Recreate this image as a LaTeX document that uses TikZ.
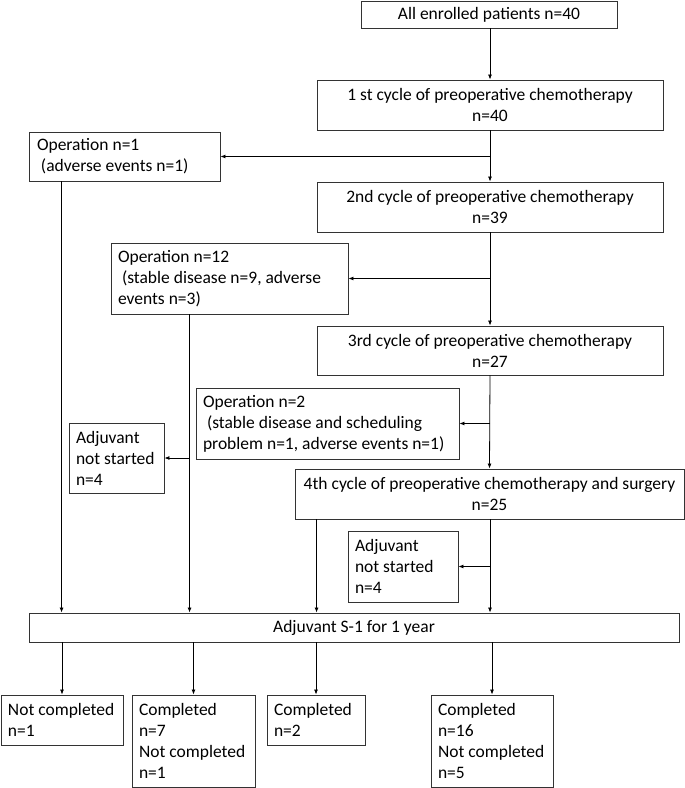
\documentclass[tikz,border=0pt]{standalone}
\usepackage{fontspec}
\setmainfont{Carlito}
\usetikzlibrary{arrows.meta}
\tikzset{
  bx/.style={draw=black!80, line width=0.9pt, inner ysep=0pt,
    font=\fontsize{17.5}{21}\selectfont, anchor=center},
  cbox/.style={bx, inner xsep=7pt, align=center, minimum width=#1},
  lbox/.style={bx, inner xsep=0pt, align=flush left, text width=#1},
  conn/.style={draw=black, line width=0.8pt},
  arr/.style={conn, -{Latex[length=5pt,width=4pt]}},
}
\begin{document}
\begin{tikzpicture}[x=1pt,y=-1pt]
\useasboundingbox (0,0) rectangle (685,788);
% main column
\node[cbox=256, minimum height=27] (A) at (489,14.5) {All enrolled patients n=40};
\node[cbox=346, minimum height=50] (C1) at (490,105) {1 st cycle of preoperative chemotherapy\\n=40};
\node[cbox=346, minimum height=50] (C2) at (490,207) {2nd cycle of preoperative chemotherapy\\n=39};
\node[cbox=346, minimum height=49] (C3) at (490,350.5) {3rd cycle of preoperative chemotherapy\\n=27};
\node[cbox=389, minimum height=50, inner xsep=2pt] (C4) at (489.5,494) {4th cycle of preoperative chemotherapy and surgery\\n=25};
% side boxes
\node[lbox=191, minimum height=49] (Op1) at (124.5,156.5) {\hspace*{8pt}Operation n=1\\\hspace*{12pt}(adverse events n=1)};
\node[lbox=237, minimum height=71] (Op12) at (229.5,278.5) {\hspace*{7pt}Operation n=12\\\hspace*{11pt}(stable disease n=9, adverse\\\hspace*{7pt}events n=3)};
\node[lbox=263, minimum height=71] (Op2) at (327.5,423.5) {\hspace*{7pt}Operation n=2\\\hspace*{11pt}(stable disease and scheduling\\\hspace*{7pt}problem n=1, adverse events n=1)};
\node[lbox=95, minimum height=70] (AdjL) at (116.5,458) {\hspace*{7pt}Adjuvant\\\hspace*{7pt}not started\\\hspace*{7pt}n=4};
\node[lbox=110, minimum height=71] (AdjR) at (403,566.5) {\hspace*{7pt}Adjuvant\\\hspace*{7pt}not started\\\hspace*{7pt}n=4};
\node[cbox=650, minimum height=29] (S1) at (354,627.5) {Adjuvant S-1 for 1 year};
% bottom boxes
\node[lbox=122, minimum height=50] (B1) at (62,720) {\hspace*{7pt}Not completed\\\hspace*{7pt}n=1};
\node[lbox=123, minimum height=92] (B2) at (193.5,741) {\hspace*{7pt}Completed\\\hspace*{7pt}n=7\\\hspace*{7pt}Not completed\\\hspace*{7pt}n=1};
\node[lbox=98, minimum height=50] (B3) at (316,720) {\hspace*{7pt}Completed\\\hspace*{7pt}n=2};
\node[lbox=122, minimum height=92] (B4) at (492,741) {\hspace*{7pt}Completed\\\hspace*{7pt}n=16\\\hspace*{7pt}Not completed\\\hspace*{7pt}n=5};
% helper coordinates
\coordinate (o1) at ([xshift=33pt]Op1.south west);
\coordinate (o12) at ([xshift=79pt]Op12.south west);
\coordinate (c4l) at (C3.south west |- C4.south);
% connectors main column
\draw[arr] (A.south -| C1.south) -- (C1.north);
\draw[arr] (C1.south) -- (C2.north);
\draw[arr] (C1.south |- Op1.east) -- (Op1.east);
\draw[arr] (C2.south) -- (C3.north);
\draw[arr] (C2.south |- Op12.east) -- (Op12.east);
\draw[arr] (C3.south) -- (C4.north);
\draw[arr] (C3.south |- Op2.east) -- (Op2.east);
\draw[arr] (C4.south -| C3.south) -- (C3.south |- S1.north);
\draw[arr] (C3.south |- AdjR.east) -- (AdjR.east);
\draw[arr] (c4l) -- (c4l |- S1.north);
\draw[arr] (o1) -- (o1 |- S1.north);
\draw[arr] (o12) -- (o12 |- S1.north);
\draw[arr] (o12 |- AdjL.east) -- (AdjL.east);
% connectors to bottom
\draw[arr] (B1.north |- S1.south) -- (B1.north);
\draw[arr] (B2.north |- S1.south) -- (B2.north);
\draw[arr] (B3.north |- S1.south) -- (B3.north);
\draw[arr] (B4.north |- S1.south) -- (B4.north);
\end{tikzpicture}
\end{document}
